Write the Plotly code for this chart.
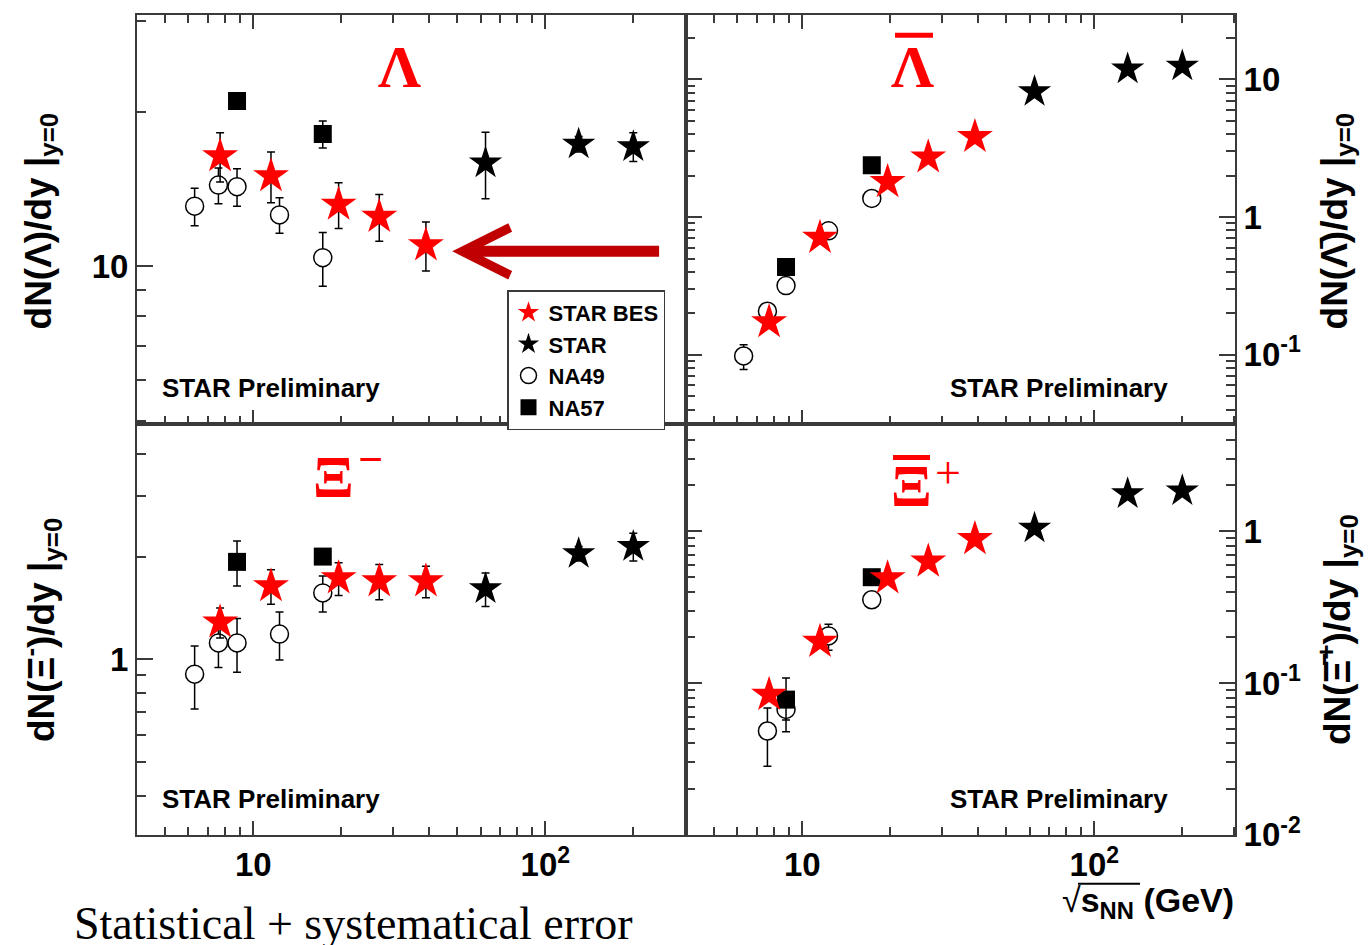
import numpy as np
import plotly.graph_objects as go

# ---------------- data ----------------
bes_x = [7.7, 11.5, 19.6, 27.0, 39.0]
star_x = [62.4, 130.0, 200.0]
na49_x = [6.3, 7.6, 8.8, 12.3, 17.3]
na49_x_axi = [7.6, 8.8, 12.3, 17.3]
na57_x = [8.8, 17.3]

# Lambda
lam_bes = [16.4, 15.0, 13.2, 12.5, 11.0]
lam_bes_err = [1.8, 1.7, 1.35, 1.3, 1.2]
lam_star = [15.9, 17.3, 17.1]
lam_star_err = [2.35, 0.6, 1.1]
lam_na49 = [13.1, 14.4, 14.3, 12.6, 10.4]
lam_na49_err = [1.1, 1.15, 1.2, 1.0, 1.25]
lam_na57 = [21.0, 18.1]
lam_na57_err = [0.6, 1.1]

# anti-Lambda
alam_bes = [0.173, 0.709, 1.80, 2.72, 3.83]
alam_bes_err = [0.015, 0.05, 0.12, 0.18, 0.25]
alam_star = [8.15, 11.9, 12.5]
alam_star_err = [0.6, 0.9, 0.9]
alam_na49 = [0.098, 0.207, 0.318, 0.795, 1.365]
alam_na49_err = [0.02, 0.015, 0.02, 0.05, 0.09]
alam_na57 = [0.434, 2.38]
alam_na57_err = [0.03, 0.15]

# Xi-
xi_bes = [1.285, 1.64, 1.73, 1.695, 1.695]
xi_bes_err = [0.13, 0.19, 0.19, 0.2, 0.18]
xi_star = [1.61, 2.04, 2.14]
xi_star_err = [0.18, 0.1, 0.2]
xi_na49 = [0.906, 1.118, 1.118, 1.187, 1.566]
xi_na49_err = [0.19, 0.17, 0.2, 0.19, 0.19]
xi_na57 = [1.93, 2.0]
xi_na57_err = [0.29, 0.1]

# anti-Xi+
axi_bes = [0.0837, 0.187, 0.49, 0.631, 0.888]
axi_bes_err = [0.006, 0.015, 0.04, 0.05, 0.07]
axi_star = [1.045, 1.76, 1.84]
axi_star_err = [0.08, 0.13, 0.13]
axi_na49 = [0.0483, 0.067, 0.204, 0.353]
axi_na49_err = [0.02, 0.01, 0.04, 0.03]
axi_na57 = [0.0777, 0.497]
axi_na57_err = [0.03, 0.03]

series_names = ["STAR BES", "STAR", "NA49", "NA57"]
x_tickvals = [10, 100]
x_ticktext = ["10", "10<sup>2</sup>"]
x_minor = [5, 6, 7, 8, 9, 20, 30, 40, 50, 60, 70, 80, 90, 200, 300]

# ---------------- style ----------------
W, H = 1369, 945
SANS = "Liberation Sans, Arial, Helvetica, sans-serif"
NARROW = "Liberation Sans Narrow, Arial Narrow, Liberation Sans, Arial, sans-serif"
SERIF = "Liberation Serif, Times New Roman, serif"
LC = "#3a3a3a"
RED = "#ff0000"


def px(x):
    return x / W


def py(y):
    return 1 - y / H


XL = [px(137), px(686)]
XR = [px(686), px(1235)]
YT = [py(433), py(15)]
YB = [py(852), py(433)]

fig = go.Figure()

panels = [
    dict(xa="x", ya="y", na57=(lam_na57, lam_na57_err), na49=(na49_x, lam_na49, lam_na49_err),
         star=(lam_star, lam_star_err), bes=(lam_bes, lam_bes_err), legend=True),
    dict(xa="x2", ya="y2", na57=(alam_na57, alam_na57_err), na49=(na49_x, alam_na49, alam_na49_err),
         star=(alam_star, alam_star_err), bes=(alam_bes, alam_bes_err), legend=False),
    dict(xa="x3", ya="y3", na57=(xi_na57, xi_na57_err), na49=(na49_x, xi_na49, xi_na49_err),
         star=(xi_star, xi_star_err), bes=(xi_bes, xi_bes_err), legend=False),
    dict(xa="x4", ya="y4", na57=(axi_na57, axi_na57_err), na49=(na49_x_axi, axi_na49, axi_na49_err),
         star=(axi_star, axi_star_err), bes=(axi_bes, axi_bes_err), legend=False),
]


def err(arr):
    return dict(type="data", array=arr, visible=True, color="black", thickness=1.5, width=4)


for p in panels:
    fig.add_trace(go.Scatter(
        x=p["na49"][0], y=p["na49"][1], error_y=err(p["na49"][2]), mode="markers",
        marker=dict(symbol="circle", size=18, color="white", line=dict(width=1.5, color="black")),
        name=series_names[2], legendgroup="na49", showlegend=p["legend"], legendrank=3,
        xaxis=p["xa"], yaxis=p["ya"]))
    fig.add_trace(go.Scatter(
        x=na57_x, y=p["na57"][0], error_y=err(p["na57"][1]), mode="markers",
        marker=dict(symbol="square", size=18, color="black"),
        name=series_names[3], legendgroup="na57", showlegend=p["legend"], legendrank=4,
        xaxis=p["xa"], yaxis=p["ya"]))
    fig.add_trace(go.Scatter(
        x=star_x, y=p["star"][0], error_y=err(p["star"][1]), mode="markers",
        marker=dict(symbol="star", size=25, color="black"),
        name=series_names[1], legendgroup="star", showlegend=p["legend"], legendrank=2,
        xaxis=p["xa"], yaxis=p["ya"]))
    fig.add_trace(go.Scatter(
        x=bes_x, y=p["bes"][0], error_y=err(p["bes"][1]), mode="markers",
        marker=dict(symbol="star", size=27, color=RED),
        name=series_names[0], legendgroup="bes", showlegend=p["legend"], legendrank=1,
        xaxis=p["xa"], yaxis=p["ya"]))

tickfont = dict(family=NARROW, size=33, color="black", weight="bold")


def xaxis(domain, anchor, labels, mirror):
    return dict(type="log", domain=domain, anchor=anchor, range=[np.log10(4.0), np.log10(303)],
                showline=True, linecolor=LC, linewidth=2, mirror=mirror,
                ticks="inside", ticklen=14, tickwidth=1.5, tickcolor=LC,
                tickmode="array", tickvals=x_tickvals, ticktext=x_ticktext,
                showticklabels=labels, tickfont=tickfont, ticklabelstandoff=0,
                minor=dict(tickmode="array", tickvals=x_minor, ticks="inside", ticklen=8,
                           tickwidth=1.5, tickcolor=LC, showgrid=False),
                showgrid=False, zeroline=False)


def yaxis(domain, anchor, rng, side, mirror, tv, tt, minor):
    return dict(type="log", domain=domain, anchor=anchor, range=rng, side=side,
                showline=True, linecolor=LC, linewidth=2, mirror=mirror,
                ticks="inside", ticklen=16, tickwidth=1.5, tickcolor=LC,
                tickmode="array", tickvals=tv, ticktext=tt, tickfont=tickfont, ticklabelstandoff=0,
                minor=dict(tickmode="array", tickvals=minor, ticks="inside", ticklen=9,
                           tickwidth=1.5, tickcolor=LC, showgrid=False),
                showgrid=False, zeroline=False)


fig.update_layout(
    width=W, height=H, margin=dict(l=0, r=0, t=0, b=0),
    paper_bgcolor="white", plot_bgcolor="white",
    xaxis=xaxis(XL, "y", False, "ticks"),
    xaxis2=xaxis(XR, "y2", False, "ticks"),
    xaxis3=xaxis(XL, "y3", True, True),
    xaxis4=xaxis(XR, "y4", True, True),
    yaxis=yaxis(YT, "x", [np.log10(4.93), np.log10(30.9)], "left", True,
                [10], ["10"], [5, 6, 7, 8, 9, 20, 30]),
    yaxis2=yaxis(YT, "x2", [-1.505, 1.47], "right", "ticks",
                 [0.1, 1, 10], ["10<sup>-1</sup>", "1", "10"],
                 [0.04, 0.05, 0.06, 0.07, 0.08, 0.09, 0.2, 0.3, 0.4, 0.5, 0.6, 0.7, 0.8, 0.9,
                  2, 3, 4, 5, 6, 7, 8, 9, 20]),
    yaxis3=yaxis(YB, "x3", [-0.513, 0.688], "left", True,
                 [1], ["1"], [0.4, 0.5, 0.6, 0.7, 0.8, 0.9, 2, 3, 4]),
    yaxis4=yaxis(YB, "x4", [-2.0, 0.703], "right", "ticks",
                 [0.01, 0.1, 1], ["10<sup>-2</sup>", "10<sup>-1</sup>", "1"],
                 [0.02, 0.03, 0.04, 0.05, 0.06, 0.07, 0.08, 0.09, 0.2, 0.3, 0.4, 0.5, 0.6, 0.7,
                  0.8, 0.9, 2, 3, 4, 5]),
    showlegend=True,
    legend=dict(x=px(507), y=py(296), xanchor="left", yanchor="top",
                bgcolor="white", bordercolor=LC, borderwidth=1.5,
                font=dict(family=SANS, size=22, color="black", weight="bold"),
                itemsizing="trace", tracegroupgap=0),
)

ann = []


def text(t, x, y, font, xanchor="center", yanchor="middle", angle=0):
    ann.append(dict(text=t, x=px(x), y=py(y), xref="paper", yref="paper", xanchor=xanchor,
                    yanchor=yanchor, textangle=angle, showarrow=False, font=font))


# y-axis titles
title_font = dict(family=SANS, size=37, color="black", weight="bold")
text("dN(Λ)/dy |<sub>y=0</sub>", 41, 226, title_font, angle=-90)
text("dN(Λ\u0304)/dy |<sub>y=0</sub>", 1337, 226, title_font, angle=-90)
text("dN(Ξ<sup>-</sup>)/dy |<sub>y=0</sub>", 41, 643, title_font, angle=-90)
text("dN(Ξ\u0304<sup>+</sup>)/dy |<sub>y=0</sub>", 1337, 643, title_font, angle=-90)

# particle labels
plab = dict(family=SERIF, size=60, color=RED, weight="bold")
text("Λ", 400, 68, plab)
text("Λ", 913, 68, plab)
text("Ξ", 333, 487, plab)
text("−", 370, 469, dict(family=SERIF, size=44, color=RED, weight="bold"))
text("Ξ", 911, 496, plab)
text("+", 948, 482, dict(family=SERIF, size=46, color=RED))

# STAR Preliminary
sp = dict(family=SANS, size=26, color="black", weight="bold")
for (xx, yy) in [(160, 396), (948, 396), (160, 815), (948, 815)]:
    text("STAR Preliminary", xx, yy, sp, xanchor="left")

# x-axis title and note
text("√<b>s<sub>NN</sub> (GeV)</b>", 1236, 921, dict(family=SANS, size=34, color="black"), xanchor="right")
text("Statistical + systematical error", 72, 942, dict(family=SERIF, size=46, color="black"), xanchor="left")

# arrow pointing at the highest BES energy point of the Lambda panel
arrow_tip = (48.0, 10.7)
arrow_tail = (248.0, 10.7)
ann.append(dict(text="", x=np.log10(arrow_tip[0]), y=np.log10(arrow_tip[1]), xref="x", yref="y",
                ax=np.log10(arrow_tail[0]), ay=np.log10(arrow_tail[1]), axref="x", ayref="y",
                showarrow=True, arrowhead=5, arrowsize=0.85, arrowwidth=11, arrowcolor="#c00000",
                standoff=0))

shapes = [
    dict(type="line", xref="paper", yref="paper", x0=px(895), x1=px(933), y0=py(36), y1=py(36),
         line=dict(color=RED, width=5)),
    dict(type="line", xref="paper", yref="paper", x0=px(893), x1=px(930), y0=py(467), y1=py(467),
         line=dict(color=RED, width=5)),
    dict(type="line", xref="paper", yref="paper", x0=px(1078), x1=px(1140), y0=py(902), y1=py(902),
         line=dict(color="black", width=2)),
]

fig.update_layout(annotations=ann, shapes=shapes)
fig.write_html("out.html")
